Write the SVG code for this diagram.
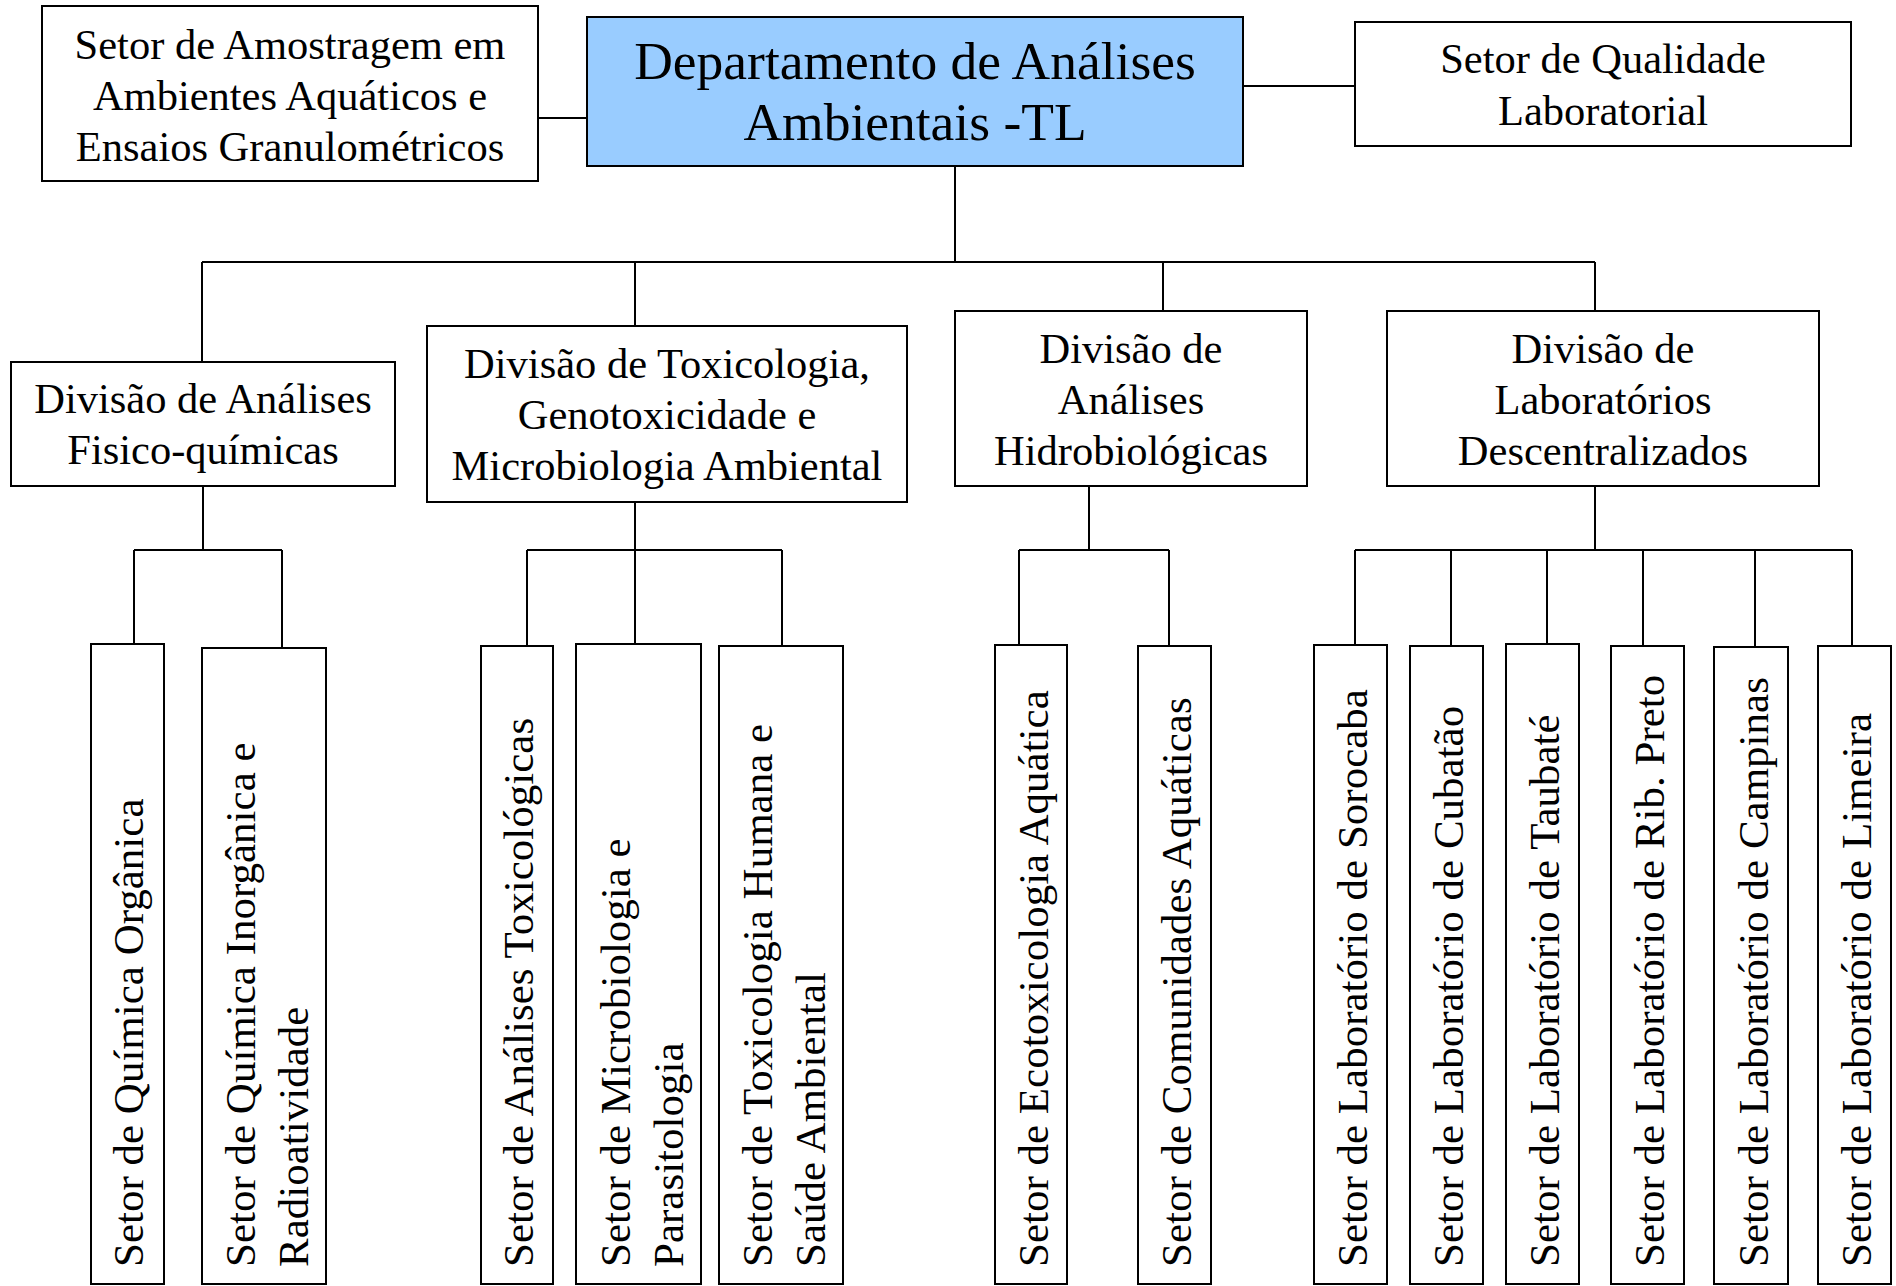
<svg xmlns="http://www.w3.org/2000/svg" width="1896" height="1286" viewBox="0 0 1896 1286">
<style>
.box{fill:#ffffff;stroke:#000000;stroke-width:2}
.dept{fill:#99CCFF;stroke:#000000;stroke-width:2}
.t{font-family:"Liberation Serif","Times New Roman",serif;font-size:42.5px;fill:#000000;text-anchor:middle}
.tb{font-family:"Liberation Serif","Times New Roman",serif;font-size:53.5px;fill:#000000;text-anchor:middle}
.r{font-family:"Liberation Serif","Times New Roman",serif;font-size:43px;fill:#000000;text-anchor:start}
.c{fill:none;stroke:#000000;stroke-width:2}
</style>
<rect width="1896" height="1286" fill="#ffffff"/>
<g id="connectors">
<path class="c" d="M538,118H587 M1243,86H1355 M955,166V262 M202,262H1595 M202,262V362 M635,262V326 M1163,262V311 M1595,262V311"/>
<path class="c" d="M203,486V550 M134,550H282 M134,550V644 M282,550V648"/>
<path class="c" d="M635,502V550 M527,550H782 M527,550V646 M635,550V644 M782,550V646"/>
<path class="c" d="M1089,486V550 M1019,550H1169 M1019,550V645 M1169,550V646"/>
<path class="c" d="M1595,486V550 M1355,550H1852 M1355,550V645 M1451,550V646 M1547,550V644 M1643,550V646 M1755,550V647 M1852,550V646"/>
</g>
<g id="n-amostragem"><rect class="box" x="42" y="6" width="496" height="175"/>
<text class="t" x="290" y="58.5">Setor de Amostragem em</text>
<text class="t" x="290" y="109.5">Ambientes Aquáticos e</text>
<text class="t" x="290" y="160.5">Ensaios Granulométricos</text></g>
<g id="n-dept"><rect class="dept" x="587" y="17" width="656" height="149"/>
<text class="tb" x="915" y="79">Departamento de Análises</text>
<text class="tb" x="915" y="140">Ambientais -TL</text></g>
<g id="n-qualidade"><rect class="box" x="1355" y="22" width="496" height="124"/>
<text class="t" x="1603" y="73">Setor de Qualidade</text>
<text class="t" x="1603" y="125">Laboratorial</text></g>
<g id="n-div1"><rect class="box" x="11" y="362" width="384" height="124"/>
<text class="t" x="203" y="413">Divisão de Análises</text>
<text class="t" x="203" y="464">Fisico-químicas</text></g>
<g id="n-div2"><rect class="box" x="427" y="326" width="480" height="176"/>
<text class="t" x="667" y="377.5">Divisão de Toxicologia,</text>
<text class="t" x="667" y="428.5">Genotoxicidade e</text>
<text class="t" x="667" y="479.5">Microbiologia Ambiental</text></g>
<g id="n-div3"><rect class="box" x="955" y="311" width="352" height="175"/>
<text class="t" x="1131" y="363">Divisão de</text>
<text class="t" x="1131" y="414">Análises</text>
<text class="t" x="1131" y="465">Hidrobiológicas</text></g>
<g id="n-div4"><rect class="box" x="1387" y="311" width="432" height="175"/>
<text class="t" x="1603" y="363">Divisão de</text>
<text class="t" x="1603" y="414">Laboratórios</text>
<text class="t" x="1603" y="465">Descentralizados</text></g>
<g id="n-s1"><rect class="box" x="91" y="644" width="73" height="640"/>
<text class="r" transform="translate(143,1267) rotate(-90)">Setor de Química Orgânica</text></g>
<g id="n-s2"><rect class="box" x="202" y="648" width="124" height="636"/>
<text class="r" transform="translate(255,1267) rotate(-90)"><tspan x="0" y="0">Setor de Química Inorgânica e</tspan><tspan x="0" y="53">Radioatividade</tspan></text></g>
<g id="n-s3"><rect class="box" x="481" y="646" width="72" height="638"/>
<text class="r" transform="translate(533,1267) rotate(-90)">Setor de Análises Toxicológicas</text></g>
<g id="n-s4"><rect class="box" x="576" y="644" width="125" height="640"/>
<text class="r" transform="translate(629.5,1267) rotate(-90)"><tspan x="0" y="0">Setor de Microbiologia e</tspan><tspan x="0" y="53">Parasitologia</tspan></text></g>
<g id="n-s5"><rect class="box" x="719" y="646" width="124" height="638"/>
<text class="r" transform="translate(772,1267) rotate(-90)"><tspan x="0" y="0">Setor de Toxicologia Humana e</tspan><tspan x="0" y="53">Saúde Ambiental</tspan></text></g>
<g id="n-s6"><rect class="box" x="995" y="645" width="72" height="639"/>
<text class="r" transform="translate(1048,1267) rotate(-90)">Setor de Ecotoxicologia Aquática</text></g>
<g id="n-s7"><rect class="box" x="1138" y="646" width="73" height="638"/>
<text class="r" transform="translate(1191,1267) rotate(-90)">Setor de Comunidades Aquáticas</text></g>
<g id="n-s8"><rect class="box" x="1314" y="645" width="73" height="639"/>
<text class="r" transform="translate(1367,1267) rotate(-90)">Setor de Laboratório de Sorocaba</text></g>
<g id="n-s9"><rect class="box" x="1410" y="646" width="73" height="638"/>
<text class="r" transform="translate(1463,1267) rotate(-90)">Setor de Laboratório de Cubatão</text></g>
<g id="n-s10"><rect class="box" x="1506" y="644" width="73" height="640"/>
<text class="r" transform="translate(1559,1267) rotate(-90)">Setor de Laboratório de Taubaté</text></g>
<g id="n-s11"><rect class="box" x="1611" y="646" width="73" height="638"/>
<text class="r" transform="translate(1664,1267) rotate(-90)">Setor de Laboratório de Rib. Preto</text></g>
<g id="n-s12"><rect class="box" x="1714" y="647" width="74" height="637"/>
<text class="r" transform="translate(1768,1267) rotate(-90)">Setor de Laboratório de Campinas</text></g>
<g id="n-s13"><rect class="box" x="1818" y="646" width="73" height="638"/>
<text class="r" transform="translate(1871,1267) rotate(-90)">Setor de Laboratório de Limeira</text></g>
</svg>
